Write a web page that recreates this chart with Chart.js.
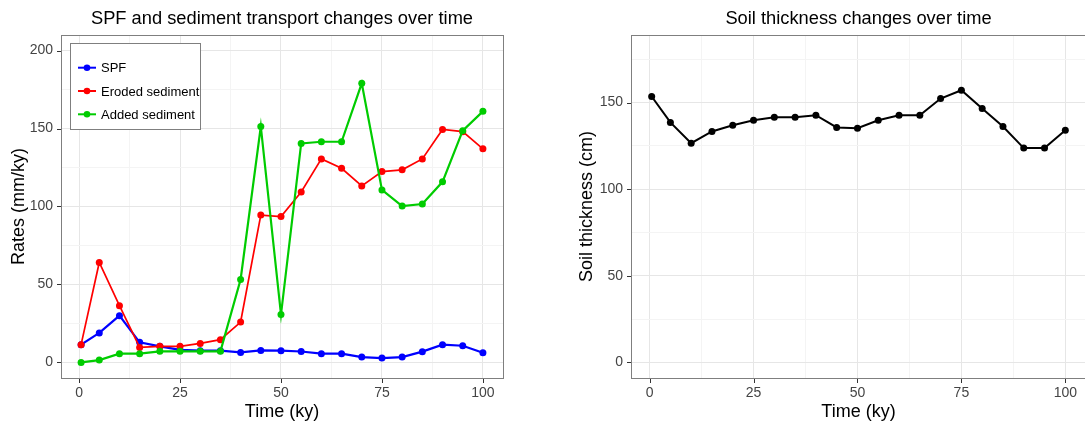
<!DOCTYPE html>
<html>
<head>
<meta charset="utf-8">
<script src="https://cdn.jsdelivr.net/npm/chart.js@4/dist/chart.umd.min.js"></script>
<style>
    html, body { margin: 0; padding: 0; background: #fff; overflow: hidden; width: 1085px; height: 423px; }
    canvas { position: absolute; top: 0; }
    #rates-chart { left: 0; }
    #soil-chart { left: 570px; }
</style>
</head>
<body>
<canvas id="rates-chart" width="540" height="423"></canvas>
<canvas id="soil-chart" width="516" height="423"></canvas>
<script>
// Model output: rates and soil thickness through time

const TIME = [0.5, 5, 10, 15, 20, 25, 30, 35, 40, 45, 50, 55, 60, 65, 70, 75, 80, 85, 90, 95, 100];

const SPF = [11.4, 18.9, 30, 12.9, 10.3, 8, 7.5, 7.5, 6.4, 7.7, 7.5, 7, 5.6, 5.6, 3.4, 2.8, 3.4, 6.9, 11.4, 10.7, 6.2];
const ERODED = [11.4, 64.1, 36.4, 9.6, 10.3, 10.3, 12.2, 14.6, 25.9, 94.5, 93.5, 109.3, 130.5, 124.5, 113.2, 122.4, 123.5, 130.5, 149.4, 148, 137];
const ADDED = [0, 1.5, 5.6, 5.6, 7.1, 7.1, 7.1, 7.1, 53.2, 151.3, 30.7, 140.4, 141.5, 141.5, 179, 110.6, 100.3, 101.6, 115.8, 148.6, 161];

const SOIL = [153.5, 138.5, 126.5, 133.3, 136.9, 139.8, 141.5, 141.5, 142.7, 135.6, 135.2, 139.8, 142.7, 142.7, 152.3, 157.1, 146.5, 136.2, 123.7, 123.7, 134];

const X_TICKS = [0, 12.5, 25, 37.5, 50, 62.5, 75, 87.5, 100];
const RATE_TICKS = [0, 25, 50, 75, 100, 125, 150, 175, 200];
const SOIL_TICKS = [0, 25, 50, 75, 100, 125, 150, 175];

const FONT = 'Arial, "Liberation Sans", sans-serif';
const GRID_MAJOR = '#e6e6e6';
const GRID_MINOR = '#f4f4f4';
const TICK_TEXT = '#444444';

function toPoints(values) {
    return values.map((v, i) => ({ x: TIME[i], y: v }));
}

function isMajor(value, step) {
    return Math.abs(value % step) < 1e-9;
}

function axis(opts) {
    const horizontal = opts.position === 'bottom';
    return {
        type: 'linear',
        position: opts.position,
        min: opts.min,
        max: opts.max,
        majorStep: opts.major,
        afterBuildTicks: scale => {
            scale.ticks = opts.ticks.map(v => ({ value: v }));
        },
        afterFit: scale => {
            // fixed axis sizes, no extra label padding
            scale.paddingLeft = 0;
            scale.paddingRight = 0;
            scale.paddingTop = 0;
            scale.paddingBottom = 0;
            if (horizontal) scale.height = 45;
            else scale.width = 61;
        },
        border: { display: false },
        grid: {
            drawTicks: true,
            tickLength: 4,
            color: ctx => isMajor(ctx.tick.value, opts.major) ? GRID_MAJOR : GRID_MINOR,
            tickColor: 'rgba(0,0,0,0)',
            lineWidth: 1
        },
        ticks: {
            autoSkip: false,
            maxRotation: 0,
            padding: horizontal ? 3 : 4,
            color: TICK_TEXT,
            font: { family: FONT, size: 14 },
            callback: value => isMajor(value, opts.major) ? String(value) : ''
        },
        title: {
            display: true,
            text: opts.title,
            color: '#000',
            font: { family: FONT, size: 18 },
            padding: horizontal ? { top: 0, bottom: 0 } : { top: opts.titlePad, bottom: 0 }
        }
    };
}

// ggplot-like panel border plus short outside tick marks
const panelBorder = {
    id: 'panelBorder',
    afterDatasetsDraw(chart) {
        const a = chart.chartArea;
        const ctx = chart.ctx;
        ctx.save();
        ctx.strokeStyle = '#7f7f7f';
        ctx.lineWidth = 1;
        ctx.strokeRect(Math.round(a.left) + 0.5, Math.round(a.top) + 0.5,
            Math.round(a.right - a.left), Math.round(a.bottom - a.top));

        ctx.strokeStyle = '#333333';
        ['x', 'y'].forEach(id => {
            const scale = chart.scales[id];
            const step = scale.options.majorStep;
            scale.ticks.forEach(t => {
                if (!isMajor(t.value, step)) return;
                const p = Math.round(scale.getPixelForValue(t.value)) + 0.5;
                ctx.beginPath();
                if (id === 'x') {
                    ctx.moveTo(p, Math.round(a.bottom) + 1);
                    ctx.lineTo(p, Math.round(a.bottom) + 5);
                } else {
                    ctx.moveTo(Math.round(a.left), p);
                    ctx.lineTo(Math.round(a.left) - 4, p);
                }
                ctx.stroke();
            });
        });
        ctx.restore();
    }
};

// legend box drawn inside the plot, top-left
const insetLegend = {
    id: 'insetLegend',
    afterDraw(chart) {
        const ctx = chart.ctx;
        const items = chart.data.datasets;
        const x = 70.5, y = 43.5, w = 130, h = 86;
        ctx.save();
        ctx.fillStyle = '#fff';
        ctx.fillRect(x, y, w, h);
        ctx.strokeStyle = '#7f7f7f';
        ctx.lineWidth = 1;
        ctx.strokeRect(x, y, w, h);
        ctx.font = '13px ' + FONT;
        ctx.textBaseline = 'middle';
        items.forEach((ds, i) => {
            const cy = 67.7 + i * 23.3;
            ctx.strokeStyle = ds.borderColor;
            ctx.lineWidth = 2;
            ctx.beginPath();
            ctx.moveTo(78, cy);
            ctx.lineTo(96, cy);
            ctx.stroke();
            ctx.fillStyle = ds.borderColor;
            ctx.beginPath();
            ctx.arc(87, cy, 3.3, 0, Math.PI * 2);
            ctx.fill();
            ctx.fillStyle = '#000';
            ctx.fillText(ds.label, 101, cy + 1);
        });
        ctx.restore();
    }
};

function lineSet(label, values, color, width, order) {
    return {
        label,
        data: toPoints(values),
        borderColor: color,
        backgroundColor: color,
        borderWidth: width,
        pointRadius: 3.5,
        pointBorderWidth: 0,
        tension: 0,
        order
    };
}

function titleOpts(text) {
    return {
        display: true,
        text,
        fullSize: false,
        color: '#000',
        font: { family: FONT, size: 18.3, weight: 'normal' },
        padding: { top: 8, bottom: 5 }
    };
}

new Chart(document.getElementById('rates-chart'), {
    type: 'line',
    data: {
        datasets: [
            lineSet('SPF', SPF, '#0000ff', 2.2, 3),
            lineSet('Eroded sediment', ERODED, '#ff0000', 1.7, 2),
            lineSet('Added sediment', ADDED, '#00cc00', 2.2, 1)
        ]
    },
    options: {
        responsive: false,
        animation: false,
        layout: { autoPadding: false, padding: { left: 0, right: 37, top: 0, bottom: 0 } },
        plugins: {
            legend: { display: false },
            tooltip: { enabled: false },
            title: titleOpts('SPF and sediment transport changes over time')
        },
        scales: {
            x: axis({ position: 'bottom', min: -4.475, max: 104.975, ticks: X_TICKS, major: 25, title: 'Time (ky)' }),
            y: axis({ position: 'left', min: -10, max: 210, ticks: RATE_TICKS, major: 50, title: 'Rates (mm/ky)', titlePad: 8 })
        }
    },
    plugins: [panelBorder, insetLegend]
});

new Chart(document.getElementById('soil-chart'), {
    type: 'line',
    data: {
        datasets: [
            lineSet('Soil thickness', SOIL, '#000000', 2, 1)
        ]
    },
    options: {
        responsive: false,
        animation: false,
        layout: { autoPadding: false, padding: { left: 0, right: 0, top: 0, bottom: 0 } },
        plugins: {
            legend: { display: false },
            tooltip: { enabled: false },
            title: titleOpts('Soil thickness changes over time')
        },
        scales: {
            x: axis({ position: 'bottom', min: -4.475, max: 104.975, ticks: X_TICKS, major: 25, title: 'Time (ky)' }),
            y: axis({ position: 'left', min: -9, max: 189, ticks: SOIL_TICKS, major: 50, title: 'Soil thickness (cm)', titlePad: 6 })
        }
    },
    plugins: [panelBorder]
});
</script>
</body>
</html>
